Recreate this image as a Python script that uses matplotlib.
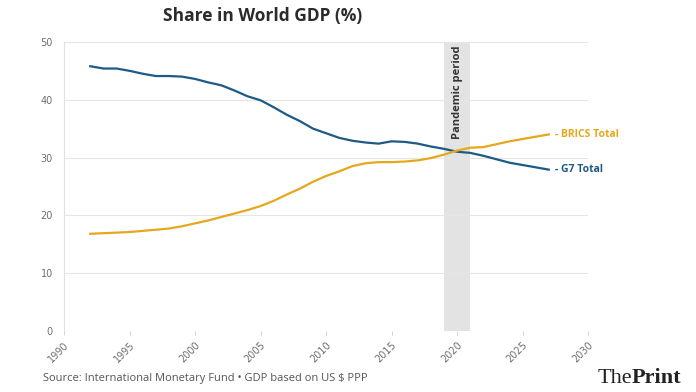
import matplotlib.pyplot as plt

years = list(range(1992, 2028))
g7 = [45.8, 45.4, 45.4, 45.0, 44.5, 44.1, 44.1, 44.0, 43.6, 43.0,
      42.5, 41.6, 40.6, 39.9, 38.7, 37.4, 36.3, 35.0, 34.2, 33.4,
      32.9, 32.6, 32.4, 32.8, 32.7, 32.4, 31.9, 31.5, 31.0, 30.8,
      30.3, 29.7, 29.1, 28.7, 28.3, 27.9]
brics = [16.8, 16.9, 17.0, 17.1, 17.3, 17.5, 17.7, 18.1, 18.6, 19.1,
         19.7, 20.3, 20.9, 21.6, 22.5, 23.6, 24.6, 25.8, 26.8, 27.6,
         28.5, 29.0, 29.2, 29.2, 29.3, 29.5, 29.9, 30.5, 31.2, 31.7,
         31.8, 32.3, 32.8, 33.2, 33.6, 34.0]
pandemic = (2019, 2021)
xticks = list(range(1990, 2031, 5))
yticks = [0, 10, 20, 30, 40, 50]

blue = '#1d5a85'
gold = '#e5a81c'
grey = '#6e6e6e'

fig = plt.figure(figsize=(6.96, 3.92), dpi=100)
ax = fig.add_axes([0.092, 0.156, 0.753, 0.737])

ax.axvspan(pandemic[0], pandemic[1], color='#e3e3e3', zorder=0, lw=0)
ax.text((pandemic[0] + pandemic[1]) / 2, 49.3, 'Pandemic period', rotation=90,
        ha='center', va='top', fontsize=8, fontweight='bold', color='#333333',
        family='Open Sans')

ax.plot(years, g7, color=blue, lw=1.6, zorder=3)
ax.plot(years, brics, color=gold, lw=1.6, zorder=3)

ax.text(years[-1] + 0.5, brics[-1], '- BRICS Total', color=gold, fontsize=7.5,
        fontweight='bold', va='center', family='Open Sans')
ax.text(years[-1] + 0.5, g7[-1], '- G7 Total', color=blue, fontsize=7.5,
        fontweight='bold', va='center', family='Open Sans')

ax.set_xlim(1990, 2030)
ax.set_ylim(0, 50)
ax.set_xticks(xticks)
ax.set_yticks(yticks)
ax.set_xticklabels([str(t) for t in xticks], rotation=45, ha='right',
                   rotation_mode='anchor')
ax.tick_params(colors=grey, labelsize=7, length=3, width=0.6)
ax.tick_params(axis='y', length=0, pad=8)
ax.tick_params(axis='x', color='#cccccc')
ax.grid(axis='y', color='#e6e6e6', lw=0.8)
for s in ['top', 'right', 'bottom']:
    ax.spines[s].set_visible(False)
ax.spines['left'].set_color('#e0e0e0')
ax.set_axisbelow(True)

fig.text(0.378, 0.958, 'Share in World GDP (%)', ha='center', va='center',
         fontsize=12.5, fontweight='bold', color='#2b2b2b', family='Open Sans')
fig.text(0.062, 0.035, 'Source: International Monetary Fund \u2022 GDP based on US $ PPP',
         fontsize=8, color='#555555', family='Open Sans', va='center')

# logo: "The" regular + "Print" bold, set right next to each other
t1 = fig.text(0.858, 0.035, 'The', fontsize=16, color='#222222',
              family='Liberation Serif', va='center')
fig.canvas.draw()
bb = t1.get_window_extent()
x2 = bb.x1 / fig.bbox.width
fig.text(x2, 0.035, 'Print', fontsize=16, color='#222222', family='Liberation Serif',
         fontweight='bold', va='center')

fig.savefig('out.png', dpi=100)
